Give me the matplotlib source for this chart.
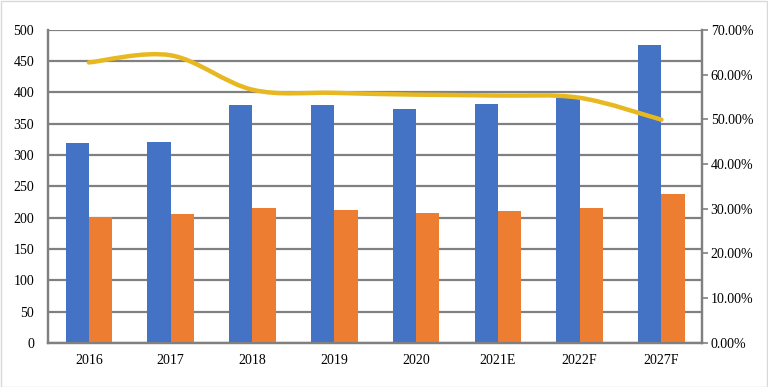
import numpy as np
import matplotlib.pyplot as plt
from matplotlib.path import Path
from matplotlib.patches import PathPatch, Rectangle
from matplotlib.ticker import FuncFormatter

plt.rcParams['font.family'] = ['Liberation Serif', 'DejaVu Serif']

# data
years = ['2016', '2017', '2018', '2019', '2020', '2021E', '2022F', '2027F']
blue_vals = [320, 321, 380, 380, 374, 382, 395, 476]
orange_vals = [201, 206, 215, 212, 207, 210, 215, 238]
line_pct = [0.627, 0.643, 0.566, 0.559, 0.555, 0.553, 0.548, 0.499]

grid_col = '#808080'

fig = plt.figure(figsize=(7.68, 3.87), dpi=100)
ax = fig.add_axes([0.0625, 0.114, 0.852, 0.809])
ax2 = ax.twinx()

x = np.arange(len(years))
w = 0.285
ax.bar(x - w / 2, blue_vals, w, color='#4472C4', zorder=3)
ax.bar(x + w / 2, orange_vals, w, color='#ED7D31', zorder=3)

ax.set_xlim(-0.5, len(years) - 0.5)
ax.set_ylim(0, 500)
ax.set_yticks(np.arange(0, 501, 50))
ax.set_xticks(x)
ax.set_xticklabels(years)
ax.yaxis.grid(True, color=grid_col, linewidth=1.6, zorder=0)
ax.set_axisbelow(True)
ax.tick_params(axis='y', length=0, pad=10, labelsize=10)
ax.tick_params(axis='x', length=0, pad=8, labelsize=10)

for side in ['top']:
    ax.spines[side].set_visible(False)
    ax2.spines[side].set_visible(False)
for a in (ax, ax2):
    for side in ['left', 'right', 'bottom']:
        a.spines[side].set_color(grid_col)
        a.spines[side].set_linewidth(1.6)

# smooth line like excel's smoothed series (catmull-rom -> bezier)
px = list(x.astype(float))
py = list(line_pct)
verts = [(px[0], py[0])]
codes = [Path.MOVETO]
n = len(px)
for i in range(n - 1):
    p0 = (px[i - 1], py[i - 1]) if i > 0 else (px[i], py[i])
    p1 = (px[i], py[i])
    p2 = (px[i + 1], py[i + 1])
    p3 = (px[i + 2], py[i + 2]) if i + 2 < n else (px[i + 1], py[i + 1])
    c1 = (p1[0] + (p2[0] - p0[0]) / 6, p1[1] + (p2[1] - p0[1]) / 6)
    c2 = (p2[0] - (p3[0] - p1[0]) / 6, p2[1] - (p3[1] - p1[1]) / 6)
    verts += [c1, c2, p2]
    codes += [Path.CURVE4] * 3
ax2.add_patch(PathPatch(Path(verts, codes), fill=False, edgecolor='#E8B820',
                        linewidth=3.2, capstyle='round', zorder=4))

ax2.set_ylim(0, 0.7)
ax2.set_yticks(np.arange(0, 0.71, 0.1))
ax2.yaxis.set_major_formatter(FuncFormatter(lambda v, p: '%.2f%%' % (v * 100)))
ax2.tick_params(axis='y', length=4, width=1.2, color=grid_col, pad=2, labelsize=10)

fig.patches.append(Rectangle((0.001, 0.001), 0.998, 0.997, transform=fig.transFigure,
                             fill=False, edgecolor='#D9D9D9', linewidth=1))

fig.savefig('out.png', dpi=100)
